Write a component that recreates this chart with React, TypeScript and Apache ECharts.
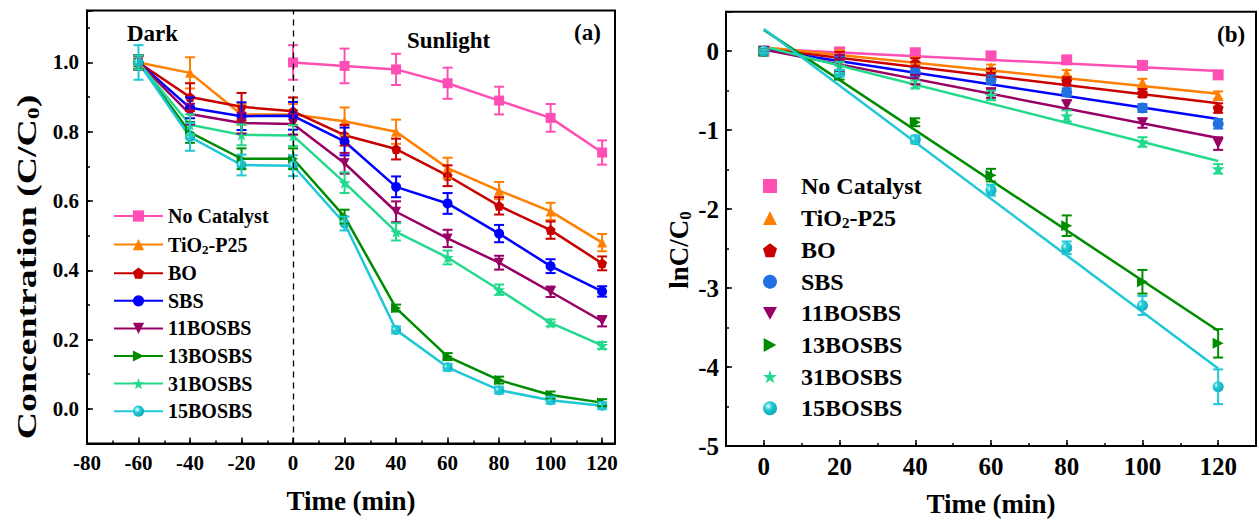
import React, { useEffect, useRef } from 'react';
import * as echarts from 'echarts';

const FONT = '"Liberation Serif", "Times New Roman", serif';

// ---------- categories ----------
const seriesNames = ['No Catalyst', 'TiO2-P25', 'BO', 'SBS', '11BOSBS', '13BOSBS', '31BOSBS', '15BOSBS'];
const lineColors = ['#ff4fb5', '#ff8000', '#c80000', '#0000ff', '#990066', '#008c00', '#22d98c', '#1ec8d6'];
const markerColorsB = ['#ff4fb5', '#ff8000', '#c80000', '#2070e0', '#990066', '#008c00', '#22d98c', '#1ec8d6'];

// ---------- panel (a): C/C0 vs time ----------
const timeDark = [-60, -40, -20, 0, 20, 40, 60, 80, 100, 120];
const timeLight = [0, 20, 40, 60, 80, 100, 120];

const concNoCatalyst = [1.0, 0.99, 0.98, 0.94, 0.89, 0.84, 0.74];
const concTiO2 = [1.0, 0.97, 0.85, 0.85, 0.83, 0.80, 0.695, 0.63, 0.57, 0.48];
const concBO = [1.0, 0.90, 0.872, 0.859, 0.79, 0.75, 0.673, 0.586, 0.516, 0.42];
const concSBS = [1.0, 0.869, 0.845, 0.846, 0.772, 0.641, 0.593, 0.506, 0.412, 0.339];
const conc11 = [1.0, 0.851, 0.825, 0.822, 0.709, 0.569, 0.492, 0.422, 0.338, 0.253];
const conc13 = [1.0, 0.798, 0.722, 0.722, 0.555, 0.291, 0.151, 0.083, 0.04, 0.018];
const conc31 = [1.0, 0.82, 0.791, 0.789, 0.653, 0.511, 0.437, 0.344, 0.248, 0.183];
const conc15 = [1.0, 0.785, 0.704, 0.702, 0.535, 0.228, 0.12, 0.054, 0.025, 0.009];

const errNoCatalyst = [0.05, 0.05, 0.045, 0.045, 0.04, 0.04, 0.035];
const errTiO2 = [0.02, 0.045, 0.03, 0.03, 0.04, 0.035, 0.03, 0.025, 0.025, 0.025];
const errBO = [0.02, 0.04, 0.04, 0.04, 0.03, 0.03, 0.03, 0.025, 0.025, 0.02];
const errSBS = [0.02, 0.03, 0.04, 0.04, 0.04, 0.03, 0.03, 0.025, 0.02, 0.015];
const err11 = [0.02, 0.03, 0.03, 0.03, 0.03, 0.03, 0.025, 0.02, 0.015, 0.015];
const err13 = [0.02, 0.03, 0.03, 0.03, 0.02, 0.01, 0.01, 0.01, 0.01, 0.01];
const err31 = [0.02, 0.03, 0.03, 0.03, 0.03, 0.025, 0.02, 0.015, 0.01, 0.01];
const err15 = [0.05, 0.04, 0.03, 0.03, 0.02, 0.01, 0.01, 0.01, 0.01, 0.01];

const concAll = [concNoCatalyst, concTiO2, concBO, concSBS, conc11, conc13, conc31, conc15];
const concErrAll = [errNoCatalyst, errTiO2, errBO, errSBS, err11, err13, err31, err15];
const concTimes = [timeLight, timeDark, timeDark, timeDark, timeDark, timeDark, timeDark, timeDark];

// ---------- panel (b): ln(C/C0) vs time ----------
const timeB = [0, 20, 40, 60, 80, 100, 120];
const lnNoCatalyst = [0, -0.01, -0.02, -0.06, -0.11, -0.18, -0.30];
const lnTiO2 = [0, -0.02, -0.12, -0.21, -0.28, -0.40, -0.56];
const lnBO = [0, -0.06, -0.15, -0.27, -0.38, -0.53, -0.72];
const lnSBS = [0, -0.09, -0.27, -0.36, -0.52, -0.72, -0.92];
const ln11 = [0, -0.15, -0.36, -0.53, -0.68, -0.91, -1.17];
const ln13 = [0, -0.30, -0.90, -1.57, -2.21, -2.92, -3.70];
const ln31 = [0, -0.19, -0.42, -0.56, -0.82, -1.15, -1.49];
const ln15 = [0, -0.28, -1.12, -1.76, -2.49, -3.22, -4.25];

const lnErrNoCatalyst = [0.02, 0.02, 0.03, 0.03, 0.03, 0.04, 0.05];
const lnErrTiO2 = [0.02, 0.03, 0.04, 0.04, 0.04, 0.05, 0.05];
const lnErrBO = [0.02, 0.05, 0.06, 0.05, 0.05, 0.05, 0.06];
const lnErrSBS = [0.02, 0.04, 0.05, 0.05, 0.05, 0.05, 0.06];
const lnErr11 = [0.02, 0.10, 0.06, 0.06, 0.06, 0.06, 0.08];
const lnErr13 = [0.02, 0.06, 0.05, 0.08, 0.13, 0.15, 0.18];
const lnErr31 = [0.02, 0.05, 0.05, 0.06, 0.07, 0.06, 0.06];
const lnErr15 = [0.02, 0.04, 0.05, 0.07, 0.08, 0.12, 0.22];

const lnAll = [lnNoCatalyst, lnTiO2, lnBO, lnSBS, ln11, ln13, ln31, ln15];
const lnErrAll = [lnErrNoCatalyst, lnErrTiO2, lnErrBO, lnErrSBS, lnErr11, lnErr13, lnErr31, lnErr15];

// linear fit lines (values at t = 0 and t = 120)
const fitTimes = [0, 120];
const fitStart = [0.03, 0.05, 0.03, 0.02, 0.02, 0.27, 0.06, 0.28];
const fitEnd = [-0.25, -0.54, -0.66, -0.86, -1.10, -3.54, -1.39, -4.02];

// ---------- axes ----------
const axisA = { xMin: -80, xMax: 125, xMajor: 20, xMinor: 10, yMin: -0.1, yMax: 1.15, yMajor: 0.2, yMinor: 0.1 };
const axisB = { xMin: -10, xMax: 130, xMajor: 20, xMinor: 10, yMin: -5, yMax: 0.5, yMajor: 1, yMinor: 0.5 };

// ---------- symbols ----------
const PENTAGON = 'path://M5,0 L10,3.8 L8.1,10 L1.9,10 L0,3.8 Z';
const INV_TRI = 'path://M0,0 L10,0 L5,9 Z';
const RIGHT_TRI = 'path://M0,0 L9,5 L0,10 Z';
const STAR = 'path://M5,0 L6.2,3.6 L10,3.7 L6.9,6 L8.1,9.6 L5,7.4 L1.9,9.6 L3.1,6 L0,3.7 L3.8,3.6 Z';
const symbolShapes = ['rect', 'triangle', PENTAGON, 'circle', INV_TRI, RIGHT_TRI, STAR, 'circle'];

function markerColor(i: number, base: string) {
  if (i === 7) {
    return new echarts.graphic.RadialGradient(0.38, 0.35, 0.65, [
      { offset: 0, color: '#e8ffff' },
      { offset: 0.45, color: base },
      { offset: 1, color: '#12a9b6' },
    ]);
  }
  return base;
}

function errorSeries(xIdx: number, yIdx: number, data: number[][], color: string, cap: number, id: string) {
  return {
    type: 'custom',
    name: id,
    xAxisIndex: xIdx,
    yAxisIndex: yIdx,
    data,
    silent: true,
    z: 4,
    encode: { x: 0, y: [1, 2] },
    renderItem: (params: any, api: any) => {
      const x = api.value(0);
      const lo = api.coord([x, api.value(1)]);
      const hi = api.coord([x, api.value(2)]);
      const h = cap / 2;
      const st = { stroke: color, lineWidth: 2, fill: 'none' };
      return {
        type: 'group',
        children: [
          { type: 'line', shape: { x1: lo[0], y1: lo[1], x2: hi[0], y2: hi[1] }, style: st },
          { type: 'line', shape: { x1: lo[0] - h, y1: lo[1], x2: lo[0] + h, y2: lo[1] }, style: st },
          { type: 'line', shape: { x1: hi[0] - h, y1: hi[1], x2: hi[0] + h, y2: hi[1] }, style: st },
        ],
      };
    },
  };
}

const boldText = { fontFamily: FONT, fontWeight: 'bold' as const, color: '#000' };
const tickLine = { color: '#000', width: 1.5 };

function isMultiple(v: number, step: number) {
  const r = v / step;
  return Math.abs(r - Math.round(r)) < 1e-6;
}

function minorAxis(gridIndex: number, min: number, max: number, interval: number, position: string) {
  return {
    gridIndex, type: 'value', min, max, interval, position,
    axisLine: { show: false, onZero: false },
    axisTick: { inside: true, length: 3, lineStyle: tickLine },
    axisLabel: { show: false }, splitLine: { show: false },
  };
}

function buildOption() {
  const series: any[] = [];

  // panel (a)
  seriesNames.forEach((name, i) => {
    const t = concTimes[i];
    series.push({
      type: 'line',
      name,
      xAxisIndex: 1,
      yAxisIndex: 1,
      data: t.map((x, k) => [x, concAll[i][k]]),
      symbol: symbolShapes[i],
      symbolSize: i === 6 ? 12 : 10,
      showSymbol: true,
      lineStyle: { width: 2.5, color: lineColors[i] },
      itemStyle: { color: markerColor(i, lineColors[i]) },
      z: 3,
      markLine:
        i === 0
          ? {
              silent: true,
              symbol: 'none',
              label: { show: false },
              lineStyle: { color: '#000', type: [6, 5], width: 1.3 },
              data: [{ xAxis: 0 }],
            }
          : undefined,
    });
    series.push(
      errorSeries(
        1,
        1,
        t.map((x, k) => [x, concAll[i][k] - concErrAll[i][k], concAll[i][k] + concErrAll[i][k]]),
        lineColors[i],
        10,
        'errA' + i
      )
    );
  });

  // panel (b)
  seriesNames.forEach((name, i) => {
    series.push({
      type: 'line',
      name: 'fit:' + name,
      xAxisIndex: 3,
      yAxisIndex: 3,
      data: fitTimes.map((x, k) => [x, k === 0 ? fitStart[i] : fitEnd[i]]),
      symbol: 'none',
      lineStyle: { width: 2.5, color: lineColors[i] },
      z: 2,
    });
    series.push({
      type: 'scatter',
      name: 'r:' + name,
      xAxisIndex: 3,
      yAxisIndex: 3,
      data: timeB.map((x, k) => [x, lnAll[i][k]]),
      symbol: symbolShapes[i],
      symbolSize: i === 6 ? 13 : 11,
      itemStyle: { color: markerColor(i, markerColorsB[i]), opacity: 1 },
      z: 3,
    });
    series.push(
      errorSeries(
        3,
        3,
        timeB.map((x, k) => [x, lnAll[i][k] - lnErrAll[i][k], lnAll[i][k] + lnErrAll[i][k]]),
        markerColorsB[i],
        10,
        'errB' + i
      )
    );
  });

  const legendFormatter = (prefix: string) => (n: string) => {
    const s = n.replace(/^r:/, '');
    const body = s === 'TiO2-P25' ? '{t|TiO}{sub|2}{t|-P25}' : '{t|' + s + '}';
    return prefix + body;
  };

  return {
    animation: false,
    backgroundColor: '#fff',
    grid: [
      { left: 87, top: 10.5, width: 528, height: 433, show: true, borderColor: '#000', borderWidth: 2, backgroundColor: 'transparent' },
      { left: 726, top: 11.7, width: 533, height: 435.6, show: true, borderColor: '#000', borderWidth: 2, backgroundColor: 'transparent' },
    ],
    xAxis: [
      minorAxis(0, axisA.xMin, axisA.xMax, axisA.xMinor, 'bottom'),
      {
        gridIndex: 0, type: 'value', min: axisA.xMin, max: axisA.xMax, interval: axisA.xMajor, position: 'bottom',
        axisLine: { show: true, onZero: false, lineStyle: { color: '#000', width: 2 } },
        axisTick: { inside: true, length: 6, lineStyle: tickLine },
        axisLabel: {
          ...boldText, fontSize: 21, margin: 9,
          formatter: (v: number) => (isMultiple(v, axisA.xMajor) && v <= 120 ? String(v) : ''),
        },
        splitLine: { show: false },
        name: 'Time (min)', nameLocation: 'middle', nameGap: 44,
        nameTextStyle: { ...boldText, fontSize: 27, verticalAlign: 'top' },
      },
      minorAxis(1, axisB.xMin, axisB.xMax, axisB.xMinor, 'bottom'),
      {
        gridIndex: 1, type: 'value', min: axisB.xMin, max: axisB.xMax, minInterval: axisB.xMajor, maxInterval: axisB.xMajor,
        splitNumber: 7, position: 'bottom',
        axisLine: { show: true, onZero: false, lineStyle: { color: '#000', width: 2 } },
        axisTick: { inside: true, length: 6, lineStyle: tickLine },
        axisLabel: {
          ...boldText, fontSize: 25, margin: 8,
          formatter: (v: number) => (isMultiple(v, axisB.xMajor) && v >= 0 && v <= 120 ? String(v) : ''),
        },
        splitLine: { show: false },
        name: 'Time (min)', nameLocation: 'middle', nameGap: 44,
        nameTextStyle: { ...boldText, fontSize: 27, verticalAlign: 'top' },
      },
    ],
    yAxis: [
      minorAxis(0, axisA.yMin, axisA.yMax, axisA.yMinor, 'left'),
      {
        gridIndex: 0, type: 'value', min: axisA.yMin, max: axisA.yMax, minInterval: axisA.yMajor, maxInterval: axisA.yMajor,
        splitNumber: 6, position: 'left',
        axisLine: { show: true, onZero: false, lineStyle: { color: '#000', width: 2 } },
        axisTick: { inside: true, length: 6, lineStyle: tickLine },
        axisLabel: {
          ...boldText, fontSize: 21, margin: 8,
          formatter: (v: number) => (isMultiple(v, axisA.yMajor) && v > -0.05 && v < 1.05 ? Math.abs(v).toFixed(1) : ''),
        },
        splitLine: { show: false },
      },
      minorAxis(1, axisB.yMin, axisB.yMax, axisB.yMinor, 'left'),
      {
        gridIndex: 1, type: 'value', min: axisB.yMin, max: axisB.yMax, interval: axisB.yMajor, position: 'left',
        axisLine: { show: true, onZero: false, lineStyle: { color: '#000', width: 2 } },
        axisTick: { inside: true, length: 6, lineStyle: tickLine },
        axisLabel: {
          ...boldText, fontSize: 25, margin: 7,
          formatter: (v: number) => (isMultiple(v, axisB.yMajor) ? String(Math.round(v)) : ''),
        },
        splitLine: { show: false },
      },
    ],
    legend: [
      {
        orient: 'vertical', left: 108, top: 201, itemWidth: 49, itemHeight: 14, itemGap: 7.6,
        data: seriesNames, selectedMode: false,
        formatter: legendFormatter(''),
        textStyle: {
          ...boldText, fontSize: 20, lineHeight: 20,
          rich: {
            t: { ...boldText, fontSize: 20, lineHeight: 20 },
            sub: { ...boldText, fontSize: 13, lineHeight: 20, padding: [9, 0, 0, 0] },
          },
        },
      },
      {
        orient: 'vertical', left: 758, top: 169, itemWidth: 14, itemHeight: 14, itemGap: 7.6,
        data: seriesNames.map((n) => 'r:' + n), selectedMode: false,
        formatter: legendFormatter('{g|}'),
        textStyle: {
          ...boldText, fontSize: 24, lineHeight: 24,
          rich: {
            g: { width: 19 },
            t: { ...boldText, fontSize: 24, lineHeight: 24 },
            sub: { ...boldText, fontSize: 15, lineHeight: 24, padding: [10, 0, 0, 0] },
          },
        },
      },
    ],
    graphic: [
      { type: 'text', left: 127, top: 22, style: { text: 'Dark', font: 'bold 23px ' + FONT, fill: '#000' } },
      { type: 'text', left: 407, top: 29, style: { text: 'Sunlight', font: 'bold 23px ' + FONT, fill: '#000' } },
      { type: 'text', left: 574, top: 21, style: { text: '(a)', font: 'bold 23px ' + FONT, fill: '#000' } },
      { type: 'text', left: 1217, top: 23, style: { text: '(b)', font: 'bold 23px ' + FONT, fill: '#000' } },
      {
        type: 'text', x: 27, y: 267, rotation: Math.PI / 2, scaleX: 1.4, scaleY: 1,
        style: {
          text: '{a|Concentration (C/C}{s|0}{a|)}', align: 'center', verticalAlign: 'middle',
          rich: {
            a: { font: 'bold 27px ' + FONT, fill: '#000', lineHeight: 30 },
            s: { font: 'bold 17px ' + FONT, fill: '#000', lineHeight: 30, padding: [12, 0, 0, 0] },
          },
        },
      },
      {
        type: 'text', x: 679, y: 250, rotation: Math.PI / 2,
        style: {
          text: '{a|lnC/C}{s|0}', align: 'center', verticalAlign: 'middle',
          rich: {
            a: { font: 'bold 27px ' + FONT, fill: '#000', lineHeight: 30 },
            s: { font: 'bold 17px ' + FONT, fill: '#000', lineHeight: 30, padding: [12, 0, 0, 0] },
          },
        },
      },
    ],
    series,
  };
}

export default function App() {
  const ref = useRef<HTMLDivElement>(null);
  useEffect(() => {
    if (!ref.current) return;
    const chart = echarts.init(ref.current, null, { renderer: 'svg' });
    chart.setOption(buildOption() as any);
    return () => chart.dispose();
  }, []);
  return (
    <div
      ref={ref}
      style={{ position: 'absolute', left: 0, top: 0, width: 1259, height: 522, background: '#fff' }}
    />
  );
}
